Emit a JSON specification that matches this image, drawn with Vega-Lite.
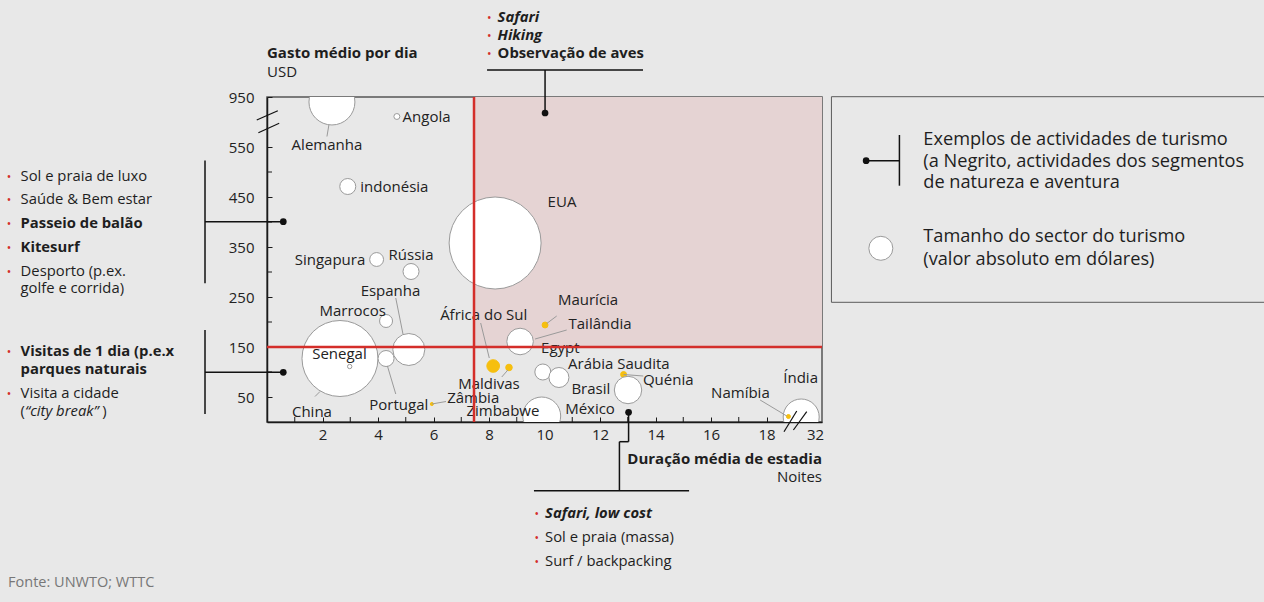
{
  "$schema": "https://vega.github.io/schema/vega-lite/v6.json",
  "width": 555,
  "height": 325,
  "autosize": {"type": "none"},
  "padding": {"left": 267, "top": 97, "right": 442, "bottom": 180},
  "background": "#e8e8e8",
  "config": {
    "view": {"stroke": "#555555", "strokeWidth": 1.5},
    "font": "Open Sans",
    "text": {"font": "Open Sans", "color": "#1e1e1e", "baseline": "middle"}
  },
  "datasets": {
    "paises": [
      {"pais": "Alemanha", "noites": 2.34, "gasto": 640, "tamanho": 132, "destaque": "não"},
      {"pais": "Angola", "noites": 4.68, "gasto": 611, "tamanho": 2.2, "destaque": "não"},
      {"pais": "Indonésia", "noites": 2.91, "gasto": 471, "tamanho": 16, "destaque": "não"},
      {"pais": "EUA", "noites": 8.22, "gasto": 358, "tamanho": 529, "destaque": "não"},
      {"pais": "Singapura", "noites": 3.95, "gasto": 325, "tamanho": 12, "destaque": "não"},
      {"pais": "Rússia", "noites": 5.19, "gasto": 301, "tamanho": 16, "destaque": "não"},
      {"pais": "Marrocos", "noites": 4.29, "gasto": 202, "tamanho": 10.5, "destaque": "não"},
      {"pais": "Espanha", "noites": 5.11, "gasto": 145, "tamanho": 64, "destaque": "não"},
      {"pais": "China", "noites": 2.63, "gasto": 127, "tamanho": 361, "destaque": "não"},
      {"pais": "Senegal", "noites": 2.98, "gasto": 111, "tamanho": 1.2, "destaque": "não"},
      {"pais": "Portugal", "noites": 4.29, "gasto": 127, "tamanho": 16, "destaque": "não"},
      {"pais": "Zâmbia", "noites": 5.94, "gasto": 36, "tamanho": 0.6, "destaque": "sim"},
      {"pais": "África do Sul", "noites": 8.15, "gasto": 112, "tamanho": 10, "destaque": "sim"},
      {"pais": "Maldivas", "noites": 8.72, "gasto": 109, "tamanho": 2.7, "destaque": "sim"},
      {"pais": "Maurícia", "noites": 10.02, "gasto": 194, "tamanho": 2.2, "destaque": "sim"},
      {"pais": "Tailândia", "noites": 9.12, "gasto": 161, "tamanho": 44, "destaque": "não"},
      {"pais": "Egypt", "noites": 9.94, "gasto": 100, "tamanho": 16, "destaque": "não"},
      {"pais": "Arábia Saudita", "noites": 10.52, "gasto": 89, "tamanho": 25, "destaque": "não"},
      {"pais": "México", "noites": 9.9, "gasto": 12, "tamanho": 90, "destaque": "não"},
      {"pais": "Quénia", "noites": 12.85, "gasto": 95, "tamanho": 2.2, "destaque": "sim"},
      {"pais": "Brasil", "noites": 13.01, "gasto": 64, "tamanho": 47, "destaque": "não"},
      {"pais": "Índia", "noites": 19.25, "gasto": 10, "tamanho": 81, "destaque": "não"},
      {"pais": "Namíbia", "noites": 18.79, "gasto": 11, "tamanho": 1, "destaque": "sim"}
    ],
    "rotulos": [
      {"nome": "Alemanha", "x": 2.16, "y": 554},
      {"nome": "Angola", "x": 5.75, "y": 611},
      {"nome": "indonésia", "x": 4.59, "y": 471},
      {"nome": "EUA", "x": 10.63, "y": 440},
      {"nome": "Singapura", "x": 2.27, "y": 324},
      {"nome": "Rússia", "x": 5.19, "y": 334},
      {"nome": "Espanha", "x": 4.45, "y": 263},
      {"nome": "Marrocos", "x": 3.09, "y": 223},
      {"nome": "Senegal", "x": 2.61, "y": 136},
      {"nome": "China", "x": 1.62, "y": 21},
      {"nome": "Portugal", "x": 4.75, "y": 34},
      {"nome": "Zâmbia", "x": 7.43, "y": 49},
      {"nome": "Zimbabwe", "x": 8.5, "y": 23},
      {"nome": "Maldivas", "x": 8.0, "y": 77},
      {"nome": "África do Sul", "x": 7.81, "y": 214},
      {"nome": "Maurícia", "x": 11.57, "y": 245},
      {"nome": "Tailândia", "x": 12.0, "y": 197},
      {"nome": "Egypt", "x": 10.57, "y": 149},
      {"nome": "Arábia Saudita", "x": 12.68, "y": 117},
      {"nome": "Brasil", "x": 11.67, "y": 66},
      {"nome": "México", "x": 11.64, "y": 27},
      {"nome": "Quénia", "x": 14.46, "y": 85},
      {"nome": "Namíbia", "x": 17.06, "y": 59},
      {"nome": "Índia", "x": 19.23, "y": 89}
    ],
    "guias": [
      {"x": 2.23, "y": 594, "x2": 2.16, "y2": 571},
      {"x": 4.64, "y": 248, "x2": 4.9, "y2": 176},
      {"x": 4.34, "y": 112, "x2": 4.64, "y2": 56},
      {"x": 1.91, "y": 61, "x2": 1.73, "y2": 51},
      {"x": 5.94, "y": 36, "x2": 6.45, "y2": 41},
      {"x": 7.7, "y": 198, "x2": 8.01, "y2": 128},
      {"x": 8.46, "y": 90, "x2": 8.68, "y2": 104},
      {"x": 10.08, "y": 197, "x2": 10.44, "y2": 212},
      {"x": 10.8, "y": 184, "x2": 9.66, "y2": 166},
      {"x": 12.85, "y": 95, "x2": 13.56, "y2": 92},
      {"x": 17.77, "y": 44, "x2": 18.73, "y2": 12}
    ],
    "quebras": [
      {"x": -0.37, "y": 604, "x2": 0.39, "y2": 622.6},
      {"x": -0.31, "y": 578.6, "x2": 0.44, "y2": 597.4},
      {"x": 18.63, "y": -19.4, "x2": 19.09, "y2": 22},
      {"x": 18.97, "y": -16, "x2": 19.45, "y2": 20.6}
    ],
    "marcasX": [
      {"noites": 1}, {"noites": 3}, {"noites": 5}, {"noites": 7}, {"noites": 9},
      {"noites": 11}, {"noites": 13}, {"noites": 15}, {"noites": 17}
    ],
    "marcasY": [
      {"gasto": 100}, {"gasto": 200}, {"gasto": 300}, {"gasto": 400}, {"gasto": 500}
    ],
    "linhas": [
      {"x": 7.93, "y": 704, "x2": 13.55, "y2": 704},
      {"x": 10.02, "y": 704, "x2": 10.02, "y2": 618},
      {"x": -2.234, "y": 523, "x2": -2.234, "y2": 277.4},
      {"x": -2.234, "y": 400.6, "x2": 0.587, "y2": 400.6},
      {"x": -2.234, "y": 184, "x2": -2.234, "y2": 16},
      {"x": -2.234, "y": 99.4, "x2": 0.587, "y2": 99.4},
      {"x": 13.03, "y": 19.4, "x2": 13.03, "y2": -39.4},
      {"x": 13.03, "y": -39.4, "x2": 12.7, "y2": -39.4},
      {"x": 12.7, "y": -39.4, "x2": 12.7, "y2": -137.4},
      {"x": 9.62, "y": -137.4, "x2": 15.21, "y2": -137.4},
      {"x": 21.59, "y": 522.6, "x2": 22.79, "y2": 522.6},
      {"x": 22.79, "y": 574, "x2": 22.79, "y2": 472.6}
    ],
    "pontos": [
      {"x": 10.02, "y": 618},
      {"x": 0.587, "y": 400.6},
      {"x": 0.587, "y": 99.4},
      {"x": 13.03, "y": 19.4},
      {"x": 21.59, "y": 522.6}
    ],
    "marcadores": [
      {"x": 8.01, "y": 807.4},
      {"x": 8.01, "y": 772},
      {"x": 8.01, "y": 736},
      {"x": -9.3, "y": 490.6},
      {"x": -9.3, "y": 444},
      {"x": -9.3, "y": 395.4},
      {"x": -9.3, "y": 347.4},
      {"x": -9.3, "y": 300.6},
      {"x": -9.3, "y": 139.4},
      {"x": -9.3, "y": 56},
      {"x": 9.72, "y": -184.6},
      {"x": 9.72, "y": -232.6},
      {"x": 9.72, "y": -280.6}
    ],
    "atividades": [
      {"texto": "Sol e praia de luxo", "x": -8.88, "y": 490.6},
      {"texto": "Saúde & Bem estar", "x": -8.88, "y": 444},
      {"texto": "Desporto (p.ex.", "x": -8.88, "y": 300.6},
      {"texto": "golfe e corrida)", "x": -8.88, "y": 265.4},
      {"texto": "Visita a cidade", "x": -8.88, "y": 56},
      {"texto": "(", "x": -8.88, "y": 20.6},
      {"texto": ")", "x": -5.94, "y": 20.6},
      {"texto": "Sol e praia (massa)", "x": 10.02, "y": -232.6},
      {"texto": "Surf / backpacking", "x": 10.02, "y": -280.6}
    ],
    "natureza": [
      {"texto": "Observação de aves", "x": 8.31, "y": 736},
      {"texto": "Passeio de balão", "x": -8.88, "y": 395.4},
      {"texto": "Kitesurf", "x": -8.88, "y": 347.4},
      {"texto": "Visitas de 1 dia (p.e.x", "x": -8.88, "y": 139.4},
      {"texto": "parques naturais", "x": -8.88, "y": 103.4}
    ],
    "naturezaItalico": [
      {"texto": "Safari", "x": 8.31, "y": 807.4},
      {"texto": "Hiking", "x": 8.31, "y": 772},
      {"texto": "Safari, low cost", "x": 10.02, "y": -184.6}
    ],
    "italico": [
      {"texto": "“city break”", "x": -8.72, "y": 20.6}
    ],
    "legenda": [
      {"texto": "Exemplos de actividades de turismo", "x": 23.65, "y": 564},
      {"texto": "(a Negrito, actividades dos segmentos", "x": 23.65, "y": 520.6},
      {"texto": "de natureza e aventura", "x": 23.65, "y": 477.4},
      {"texto": "Tamanho do sector do turismo", "x": 23.65, "y": 370.6},
      {"texto": "(valor absoluto em dólares)", "x": 23.65, "y": 324}
    ]
  },
  "layer": [
    {
      "data": {"values": [{"x": 7.46, "x2": 20, "y": 150, "y2": 650}]},
      "mark": {"type": "rect", "fill": "#e5d3d3"},
      "encoding": {
        "x": {"field": "x", "type": "quantitative", "scale": {"domain": [0, 20], "nice": false, "zero": false},
          "axis": {"values": [2,4,6,8,10,12,14,16,18,19.75],
            "labelExpr": "datum.value > 19 ? '32' : datum.label",
            "title": null, "grid": false, "domainColor": "#1a1a1a", "domainWidth": 1.5,
            "tickColor": "#1a1a1a", "tickSize": -5, "tickWidth": 1, "labelPadding": 10,
            "labelFontSize": 15, "labelFont": "Open Sans", "labelColor": "#222", "labelOverlap": false, "labelFlush": false}},
        "x2": {"field": "x2"},
        "y": {"field": "y", "type": "quantitative", "scale": {"domain": [0, 650], "nice": false, "zero": false},
          "axis": {"values": [50,150,250,350,450,550,650],
            "labelExpr": "datum.value > 600 ? '950' : datum.label",
            "title": null, "grid": false, "domainColor": "#1a1a1a", "domainWidth": 1.5,
            "tickColor": "#1a1a1a", "tickSize": -5, "tickWidth": 1, "labelPadding": 18,
            "labelFontSize": 15, "labelFont": "Open Sans", "labelColor": "#222", "labelOverlap": false, "labelFlush": false}},
        "y2": {"field": "y2"}
      }
    },
    {
      "data": {"name": "marcasX"},
      "mark": {"type": "rule", "color": "#1a1a1a", "strokeWidth": 1},
      "encoding": {
        "x": {"field": "noites", "type": "quantitative", "scale": {"domain": [0, 20], "nice": false, "zero": false}},
        "y": {"datum": 0, "type": "quantitative", "scale": {"domain": [0, 650], "nice": false, "zero": false}},
        "y2": {"datum": 10}
      }
    },
    {
      "data": {"name": "marcasY"},
      "mark": {"type": "rule", "color": "#1a1a1a", "strokeWidth": 1},
      "encoding": {
        "y": {"field": "gasto", "type": "quantitative", "scale": {"domain": [0, 650], "nice": false, "zero": false}},
        "x": {"datum": 0, "type": "quantitative", "scale": {"domain": [0, 20], "nice": false, "zero": false}},
        "x2": {"datum": 0.18}
      }
    },
    {
      "data": {"name": "paises"},
      "mark": {"type": "circle", "opacity": 1, "strokeWidth": 1, "clip": true},
      "encoding": {
        "x": {"field": "noites", "type": "quantitative", "scale": {"domain": [0, 20], "nice": false, "zero": false}},
        "y": {"field": "gasto", "type": "quantitative", "scale": {"domain": [0, 650], "nice": false, "zero": false}},
        "size": {"field": "tamanho", "type": "quantitative", "scale": {"type": "linear", "domain": [0, 600], "range": [0, 9600], "zero": true}, "legend": null},
        "fill": {"field": "destaque", "type": "nominal", "scale": {"domain": ["não", "sim"], "range": ["#ffffff", "#f6bf0f"]}, "legend": null},
        "stroke": {"field": "destaque", "type": "nominal", "scale": {"domain": ["não", "sim"], "range": ["#9a9a9a", "#f6bf0f"]}, "legend": null}
      }
    },
    {
      "data": {"values": [{"x": 22.12, "y": 347.4, "tamanho": 36}]},
      "mark": {"type": "circle", "opacity": 1, "fill": "#ffffff", "stroke": "#9a9a9a", "strokeWidth": 1},
      "encoding": {
        "x": {"field": "x", "type": "quantitative", "scale": {"domain": [0, 20], "nice": false, "zero": false}},
        "y": {"field": "y", "type": "quantitative", "scale": {"domain": [0, 650], "nice": false, "zero": false}},
        "size": {"field": "tamanho", "type": "quantitative", "legend": null}
      }
    },
    {
      "data": {"name": "guias"},
      "mark": {"type": "rule", "color": "#9a9a9a", "strokeWidth": 1},
      "encoding": {
        "x": {"field": "x", "type": "quantitative", "scale": {"domain": [0, 20], "nice": false, "zero": false}},
        "y": {"field": "y", "type": "quantitative", "scale": {"domain": [0, 650], "nice": false, "zero": false}},
        "x2": {"field": "x2"},
        "y2": {"field": "y2"}
      }
    },
    {
      "data": {"name": "rotulos"},
      "mark": {"type": "text", "fontSize": 15, "align": "center", "baseline": "middle", "color": "#222"},
      "encoding": {
        "x": {"field": "x", "type": "quantitative", "scale": {"domain": [0, 20], "nice": false, "zero": false}},
        "y": {"field": "y", "type": "quantitative", "scale": {"domain": [0, 650], "nice": false, "zero": false}},
        "text": {"field": "nome"}
      }
    },
    {
      "data": {"values": [{"media_noites": 7.46}]},
      "mark": {"type": "rule", "color": "#d42e2a", "strokeWidth": 2.5},
      "encoding": {
        "x": {"field": "media_noites", "type": "quantitative", "scale": {"domain": [0, 20], "nice": false, "zero": false}}
      }
    },
    {
      "data": {"values": [{"media_gasto": 150}]},
      "mark": {"type": "rule", "color": "#d42e2a", "strokeWidth": 2.5},
      "encoding": {
        "y": {"field": "media_gasto", "type": "quantitative", "scale": {"domain": [0, 650], "nice": false, "zero": false}}
      }
    },
    {
      "data": {"name": "quebras"},
      "mark": {"type": "rule", "color": "#111", "strokeWidth": 1.2},
      "encoding": {
        "x": {"field": "x", "type": "quantitative", "scale": {"domain": [0, 20], "nice": false, "zero": false}},
        "y": {"field": "y", "type": "quantitative", "scale": {"domain": [0, 650], "nice": false, "zero": false}},
        "x2": {"field": "x2"},
        "y2": {"field": "y2"}
      }
    },
    {
      "data": {"name": "linhas"},
      "mark": {"type": "rule", "color": "#111", "strokeWidth": 1.5},
      "encoding": {
        "x": {"field": "x", "type": "quantitative", "scale": {"domain": [0, 20], "nice": false, "zero": false}},
        "y": {"field": "y", "type": "quantitative", "scale": {"domain": [0, 650], "nice": false, "zero": false}},
        "x2": {"field": "x2"},
        "y2": {"field": "y2"}
      }
    },
    {
      "data": {"name": "pontos"},
      "mark": {"type": "circle", "color": "#111", "opacity": 1, "size": 45},
      "encoding": {
        "x": {"field": "x", "type": "quantitative", "scale": {"domain": [0, 20], "nice": false, "zero": false}},
        "y": {"field": "y", "type": "quantitative", "scale": {"domain": [0, 650], "nice": false, "zero": false}}
      }
    },
    {
      "data": {"values": [{"x": 20.34, "x2": 36.3, "y": 239.4, "y2": 650.6}]},
      "mark": {"type": "rect", "fillOpacity": 0, "stroke": "#5a5a5a", "strokeWidth": 1},
      "encoding": {
        "x": {"field": "x", "type": "quantitative", "scale": {"domain": [0, 20], "nice": false, "zero": false}},
        "x2": {"field": "x2"},
        "y": {"field": "y", "type": "quantitative", "scale": {"domain": [0, 650], "nice": false, "zero": false}},
        "y2": {"field": "y2"}
      }
    },
    {
      "data": {"name": "marcadores"},
      "mark": {"type": "text", "text": "•", "fontSize": 12, "color": "#d42e2a", "align": "center", "baseline": "middle"},
      "encoding": {
        "x": {"field": "x", "type": "quantitative", "scale": {"domain": [0, 20], "nice": false, "zero": false}},
        "y": {"field": "y", "type": "quantitative", "scale": {"domain": [0, 650], "nice": false, "zero": false}}
      }
    },
    {
      "data": {"name": "atividades"},
      "mark": {"type": "text", "fontSize": 14.8, "align": "left", "baseline": "middle", "color": "#1e1e1e"},
      "encoding": {
        "x": {"field": "x", "type": "quantitative", "scale": {"domain": [0, 20], "nice": false, "zero": false}},
        "y": {"field": "y", "type": "quantitative", "scale": {"domain": [0, 650], "nice": false, "zero": false}},
        "text": {"field": "texto"}
      }
    },
    {
      "data": {"name": "natureza"},
      "mark": {"type": "text", "fontSize": 14.8, "fontWeight": "bold", "align": "left", "baseline": "middle", "color": "#1e1e1e"},
      "encoding": {
        "x": {"field": "x", "type": "quantitative", "scale": {"domain": [0, 20], "nice": false, "zero": false}},
        "y": {"field": "y", "type": "quantitative", "scale": {"domain": [0, 650], "nice": false, "zero": false}},
        "text": {"field": "texto"}
      }
    },
    {
      "data": {"name": "naturezaItalico"},
      "mark": {"type": "text", "fontSize": 14.8, "fontWeight": "bold", "fontStyle": "italic", "align": "left", "baseline": "middle", "color": "#1e1e1e"},
      "encoding": {
        "x": {"field": "x", "type": "quantitative", "scale": {"domain": [0, 20], "nice": false, "zero": false}},
        "y": {"field": "y", "type": "quantitative", "scale": {"domain": [0, 650], "nice": false, "zero": false}},
        "text": {"field": "texto"}
      }
    },
    {
      "data": {"name": "italico"},
      "mark": {"type": "text", "fontSize": 14.8, "fontStyle": "italic", "align": "left", "baseline": "middle", "color": "#1e1e1e"},
      "encoding": {
        "x": {"field": "x", "type": "quantitative", "scale": {"domain": [0, 20], "nice": false, "zero": false}},
        "y": {"field": "y", "type": "quantitative", "scale": {"domain": [0, 650], "nice": false, "zero": false}},
        "text": {"field": "texto"}
      }
    },
    {
      "data": {"name": "legenda"},
      "mark": {"type": "text", "fontSize": 18.2, "align": "left", "baseline": "middle", "color": "#1e1e1e"},
      "encoding": {
        "x": {"field": "x", "type": "quantitative", "scale": {"domain": [0, 20], "nice": false, "zero": false}},
        "y": {"field": "y", "type": "quantitative", "scale": {"domain": [0, 650], "nice": false, "zero": false}},
        "text": {"field": "texto"}
      }
    },
    {
      "data": {"values": [{"texto": "Gasto médio por dia", "x": 0, "y": 738}]},
      "mark": {"type": "text", "fontSize": 15, "fontWeight": "bold", "align": "left", "baseline": "middle", "color": "#1e1e1e"},
      "encoding": {
        "x": {"field": "x", "type": "quantitative", "scale": {"domain": [0, 20], "nice": false, "zero": false}},
        "y": {"field": "y", "type": "quantitative", "scale": {"domain": [0, 650], "nice": false, "zero": false}},
        "text": {"field": "texto"}
      }
    },
    {
      "data": {"values": [{"texto": "USD", "x": 0, "y": 700}]},
      "mark": {"type": "text", "fontSize": 15, "align": "left", "baseline": "middle", "color": "#1e1e1e"},
      "encoding": {
        "x": {"field": "x", "type": "quantitative", "scale": {"domain": [0, 20], "nice": false, "zero": false}},
        "y": {"field": "y", "type": "quantitative", "scale": {"domain": [0, 650], "nice": false, "zero": false}},
        "text": {"field": "texto"}
      }
    },
    {
      "data": {"values": [{"texto": "Duração média de estadia", "x": 20, "y": -74}]},
      "mark": {"type": "text", "fontSize": 15, "fontWeight": "bold", "align": "right", "baseline": "middle", "color": "#1e1e1e"},
      "encoding": {
        "x": {"field": "x", "type": "quantitative", "scale": {"domain": [0, 20], "nice": false, "zero": false}},
        "y": {"field": "y", "type": "quantitative", "scale": {"domain": [0, 650], "nice": false, "zero": false}},
        "text": {"field": "texto"}
      }
    },
    {
      "data": {"values": [{"texto": "Noites", "x": 20, "y": -109.4}]},
      "mark": {"type": "text", "fontSize": 15, "align": "right", "baseline": "middle", "color": "#1e1e1e"},
      "encoding": {
        "x": {"field": "x", "type": "quantitative", "scale": {"domain": [0, 20], "nice": false, "zero": false}},
        "y": {"field": "y", "type": "quantitative", "scale": {"domain": [0, 650], "nice": false, "zero": false}},
        "text": {"field": "texto"}
      }
    },
    {
      "data": {"values": [{"texto": "Fonte: UNWTO; WTTC", "x": -9.33, "y": -322}]},
      "mark": {"type": "text", "fontSize": 14.5, "align": "left", "baseline": "middle", "color": "#777777"},
      "encoding": {
        "x": {"field": "x", "type": "quantitative", "scale": {"domain": [0, 20], "nice": false, "zero": false}},
        "y": {"field": "y", "type": "quantitative", "scale": {"domain": [0, 650], "nice": false, "zero": false}},
        "text": {"field": "texto"}
      }
    }
  ]
}
